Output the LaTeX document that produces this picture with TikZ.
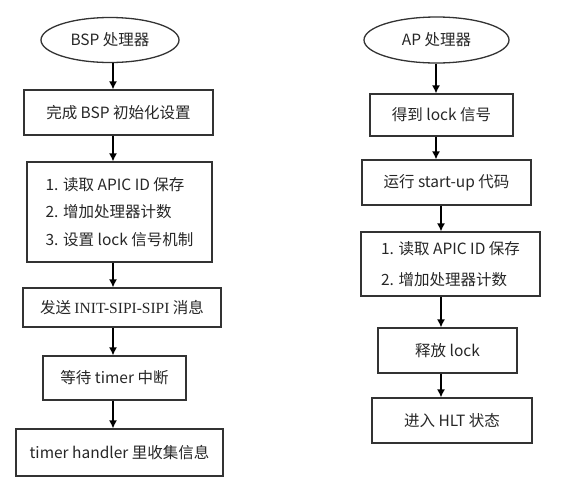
\documentclass[tikz,border=0pt]{standalone}
\usepackage{fontspec}
\setmainfont{Noto Sans CJK SC}
\newfontfamily\serifpart{Liberation Serif}
\usetikzlibrary{shapes.geometric,arrows.meta}
\definecolor{boxline}{HTML}{333333}
\tikzset{
  every node/.style={font=\fontsize{15.5}{27.5}\selectfont, text=black!85},
  stepbox/.style={draw=boxline, line width=1.3pt, rectangle, inner sep=0pt, align=center},
  listbox/.style={draw=boxline, line width=1.3pt, rectangle, inner sep=0pt, align=left},
  startell/.style={draw=boxline, line width=1.3pt, ellipse, inner sep=0pt},
  arr/.style={draw=black, line width=1.3pt, -{Latex[length=8pt,width=8pt]}}
}
\begin{document}
\begin{tikzpicture}[x=1pt,y=-1pt]
\useasboundingbox (0,0) rectangle (565,496);
% left column
\node[startell, minimum width=138, minimum height=45] (e1) at (110,40) {BSP 处理器};
\node[stepbox, minimum width=189, minimum height=45] (b1) at (118.5,112.5) {完成 BSP 初始化设置};
\node[listbox, minimum width=185, minimum height=100] (b2) at (119.5,212) {1. 读取 APIC ID 保存\\2. 增加处理器计数\\3. 设置 lock 信号机制};
\node[stepbox, minimum width=198, minimum height=39] (b3) at (122,307.5) {发送 {\serifpart INIT-SIPI-SIPI} 消息};
\node[stepbox, minimum width=143, minimum height=44] (b4) at (114.5,378) {等待 timer 中断};
\node[stepbox, minimum width=207, minimum height=47] (b5) at (119.5,452.5) {timer handler 里收集信息};
\coordinate (L) at (113,0);
\draw[arr] (e1.south -| L) -- (b1.north -| L);
\draw[arr] (b1.south -| L) -- (b2.north -| L);
\draw[arr] (b2.south -| L) -- (b3.north -| L);
\draw[arr] (b3.south -| L) -- (b4.north -| L);
\draw[arr] (b4.south -| L) -- (b5.north -| L);
% right column
\node[startell, minimum width=145, minimum height=46] (e2) at (436.5,40) {AP 处理器};
\node[stepbox, minimum width=143, minimum height=42] (r1) at (441.5,115) {得到 lock 信号};
\node[stepbox, minimum width=169, minimum height=45] (r2) at (446.5,182.5) {运行 start-up 代码};
\node[listbox, minimum width=179, minimum height=64, font=\fontsize{15.5}{31}\selectfont] (r3) at (450.5,264) {1. 读取 APIC ID 保存\\2. 增加处理器计数};
\node[stepbox, minimum width=139, minimum height=45] (r4) at (447.5,350.5) {释放 lock};
\node[stepbox, minimum width=160, minimum height=45] (r5) at (452,420.5) {进入 HLT 状态};
\coordinate (R1) at (436,0);
\coordinate (R2) at (441,0);
\draw[arr] (e2.south -| R1) -- (r1.north -| R1);
\draw[arr] (r1.south -| R1) -- (r2.north -| R1);
\draw[arr] (r2.south -| R2) -- (r3.north -| R2);
\draw[arr] (r3.south -| R2) -- (r4.north -| R2);
\draw[arr] (r4.south -| R2) -- (r5.north -| R2);
\end{tikzpicture}
\end{document}
